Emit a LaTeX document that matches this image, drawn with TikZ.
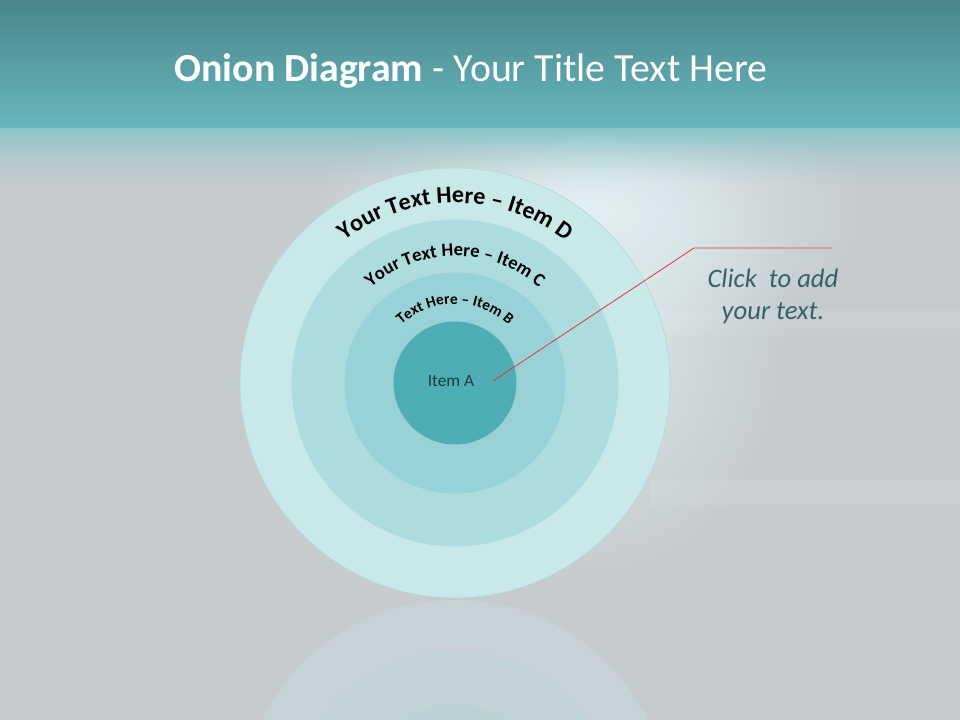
\documentclass[tikz,border=0pt]{standalone}
\usepackage{fontspec}
\setmainfont{Carlito}
\usetikzlibrary{decorations.text,fadings}
\definecolor{bandtop}{HTML}{4A868B}
\definecolor{bandbot}{HTML}{67B7BD}
\definecolor{bandfade}{HTML}{88C4C9}
\definecolor{bggrey}{HTML}{C6CBCE}
\definecolor{bglight}{HTML}{CFE1E7}
\definecolor{glowcol}{HTML}{E3F2F4}
\definecolor{ringD}{HTML}{C8E8EA}
\definecolor{ringDedge}{HTML}{B2D8DB}
\definecolor{ringC}{HTML}{ADDCDF}
\definecolor{ringB}{HTML}{98D2D6}
\definecolor{ringA}{HTML}{4FAEB5}
\definecolor{calltext}{HTML}{336365}
\definecolor{itemtext}{HTML}{1F3A3C}
\definecolor{callline}{HTML}{E03535}
\tikzfading[name=softglow, inner color=transparent!0, outer color=transparent!100]
\tikzset{
  ring/.style={circle, inner sep=0pt, draw=none},
  arctext/.style={decorate, decoration={text along path, text align=center, text color=black}},
}
\begin{document}
\begin{tikzpicture}[x=0.75pt,y=0.75pt]
\useasboundingbox (0,0) rectangle (960,720);
% background
\fill[bggrey] (0,0) rectangle (960,600);
\shade[left color=bggrey, middle color=bglight, right color=bggrey] (170,0) rectangle (1010,600);
\fill[glowcol, opacity=0.7, path fading=softglow] (600,390) ellipse[x radius=190, y radius=250];
\fill[glowcol, opacity=0.9, path fading=softglow] (590,510) ellipse[x radius=280, y radius=140];
\fill[white, opacity=0.07] (660,410) rectangle (960,385);
\fill[white, opacity=0.07] (650,240) rectangle (960,215);
\foreach \i in {0,...,19} {
  \pgfmathsetmacro{\op}{(1-\i/20)^1.6}
  \fill[bandfade, opacity=\op] (0,594-3*\i) rectangle (960,591-3*\i);
}
\shade[top color=bandtop, bottom color=bandbot] (0,720) rectangle (960,592);
% reflection
\begin{scope}
\clip (0,0) rectangle (960,120);
\fill[ringD, opacity=0.25] (455,-95) circle[radius=215];
\fill[ringC, opacity=0.14] (455,-95) circle[radius=163];
\fill[ringB, opacity=0.10] (455,-95) circle[radius=110];
\end{scope}
% title
\node[text=white, font=\fontsize{29.9}{36}\selectfont] (title) at (471,649) {\textbf{Onion Diagram} - Your Title Text Here};
% onion
\coordinate (ctr) at (455,337);
\node[ring, fill=ringD, draw=ringDedge, line width=0.5pt, minimum size=322.5pt] (D) at (ctr) {};
\node[ring, fill=ringC, minimum size=245.25pt] (C) at (ctr) {};
\node[ring, fill=ringB, minimum size=165.75pt] (B) at (ctr) {};
\node[ring, fill=ringA, minimum size=92.25pt] (A) at (ctr) {};
\node[text=itemtext, font=\fontsize{13}{15}\selectfont] (itemA) at (451,339) {Item A};
\path[arctext, decoration={text={|\bfseries\fontsize{18}{20}\selectfont|Your Text Here – Item D}}]
  (ctr) ++(135:180) arc[start angle=135, end angle=45, radius=180];
\path[arctext, decoration={text={|\bfseries\fontsize{14}{16}\selectfont|Your Text Here – Item C}}]
  (ctr) ++(140:127) arc[start angle=140, end angle=40, radius=127];
\path[arctext, decoration={text={|\bfseries\fontsize{11.5}{13}\selectfont|Text Here – Item B}}]
  (ctr) ++(145:79) arc[start angle=145, end angle=35, radius=79];
% callout
\coordinate (p0) at (493,339);
\coordinate (p1) at (694,472);
\coordinate (p2) at (832,472);
\draw[callline, line width=0.6pt] (p0) -- (p1) -- (p2);
\node[text=calltext, font=\itshape\fontsize{20}{24}\selectfont, align=center] (call) at (773,424) {Click\ \ to add\\your text.};
\end{tikzpicture}
\end{document}
